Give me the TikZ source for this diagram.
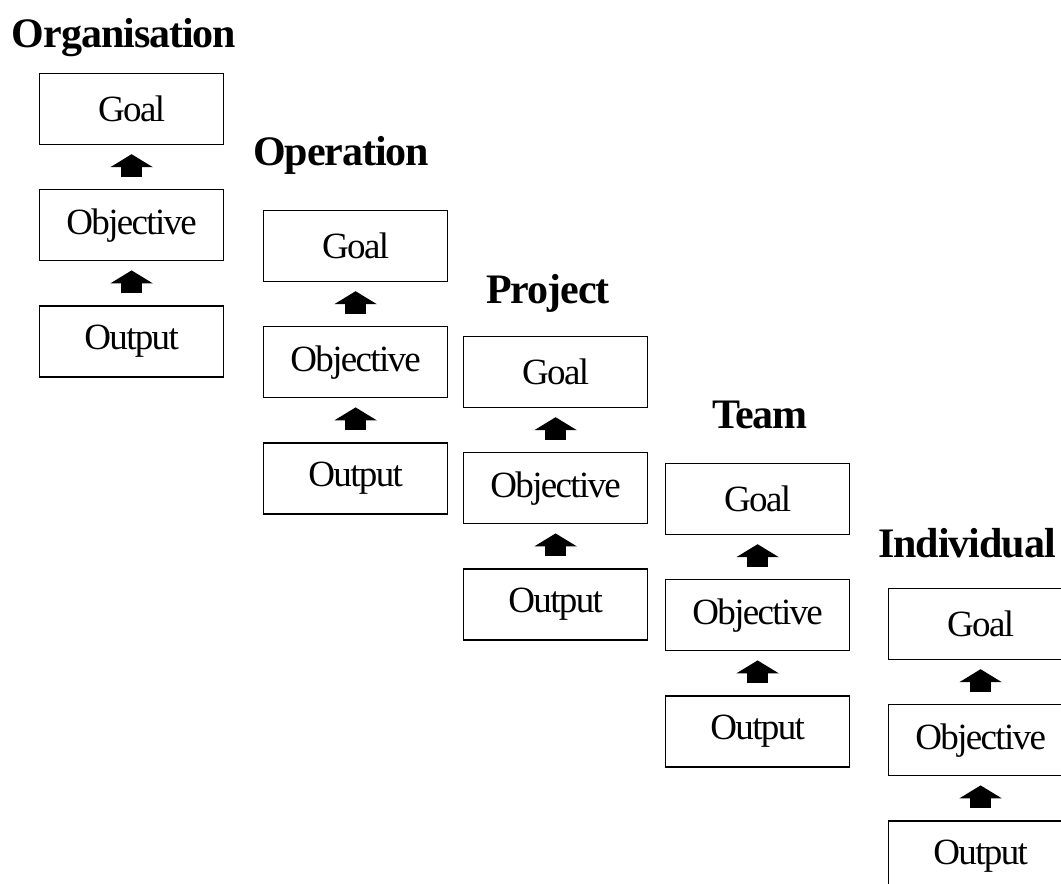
\documentclass[tikz,border=0pt]{standalone}
\usepackage{fontspec}
\setmainfont{Liberation Serif}
\newfontfamily\boxfont{Liberation Serif}[LetterSpace=-4.5]
\newfontfamily\titlefont{Liberation Serif}[LetterSpace=-2.5]
\usepackage{tikz}
\usetikzlibrary{positioning}
\usetikzlibrary{arrows.meta}

\tikzset{
	lvlbox/.style={
		draw,
		line width=1.2pt,
		fill=white,
		minimum width=184pt,
		minimum height=71pt,
		inner sep=0pt,
		font=\boxfont\fontsize{37}{41}\selectfont
	},
	lvltitle/.style={
		anchor=base,
		inner sep=0pt,
		font=\titlefont\bfseries\fontsize{42}{48}\selectfont
	},
	uparrow/.style={
		line width=21pt,
		-{Triangle[width=42pt,length=13pt]}
	}
}

\begin{document}
\begin{tikzpicture}[x=1pt,y=-1pt]
	\useasboundingbox (0,0) rectangle (1061,884);
	\clip (0,0) rectangle (1061,884);
	
	% --- Organisation
	
	\node[lvltitle] (Org-Title) at (124,47) {Organisation};
	
	\node[
	lvlbox,
	anchor=north west
	] (Org-Goal) at (39,73) {Goal};
	
	\node[
	lvlbox,
	below=44pt of Org-Goal
	] (Org-Obj) {Objective};
	
	\node[
	lvlbox,
	below=44pt of Org-Obj
	] (Org-Out) {Output};
	
	% --- Operation
	
	\node[lvltitle] (Op-Title) at (341,165) {Operation};
	
	\node[
	lvlbox,
	anchor=north west
	] (Op-Goal) at (263,210) {Goal};
	
	\node[
	lvlbox,
	below=44pt of Op-Goal
	] (Op-Obj) {Objective};
	
	\node[
	lvlbox,
	below=44pt of Op-Obj
	] (Op-Out) {Output};
	
	% --- Project
	
	\node[lvltitle] (Proj-Title) at (548,303) {Project};
	
	\node[
	lvlbox,
	anchor=north west
	] (Proj-Goal) at (463,336) {Goal};
	
	\node[
	lvlbox,
	below=44pt of Proj-Goal
	] (Proj-Obj) {Objective};
	
	\node[
	lvlbox,
	below=44pt of Proj-Obj
	] (Proj-Out) {Output};
	
	% --- Team
	
	\node[lvltitle] (Team-Title) at (760,428) {Team};
	
	\node[
	lvlbox,
	anchor=north west
	] (Team-Goal) at (665,463) {Goal};
	
	\node[
	lvlbox,
	below=44pt of Team-Goal
	] (Team-Obj) {Objective};
	
	\node[
	lvlbox,
	below=44pt of Team-Obj
	] (Team-Out) {Output};
	
	% --- Individual
	
	\node[lvltitle] (Ind-Title) at (967,557) {Individual};
	
	\node[
	lvlbox,
	anchor=north west
	] (Ind-Goal) at (888,588) {Goal};
	
	\node[
	lvlbox,
	below=44pt of Ind-Goal
	] (Ind-Obj) {Objective};
	
	\node[
	lvlbox,
	below=44pt of Ind-Obj
	] (Ind-Out) {Output};
	
	% --- arrows
	
	\draw[uparrow] ([yshift=12pt]Org-Out.north) -- ([yshift=-9pt]Org-Obj.south);
	\draw[uparrow] ([yshift=12pt]Org-Obj.north) -- ([yshift=-9pt]Org-Goal.south);
	
	\draw[uparrow] ([yshift=12pt]Op-Out.north) -- ([yshift=-9pt]Op-Obj.south);
	\draw[uparrow] ([yshift=12pt]Op-Obj.north) -- ([yshift=-9pt]Op-Goal.south);
	
	\draw[uparrow] ([yshift=12pt]Proj-Out.north) -- ([yshift=-9pt]Proj-Obj.south);
	\draw[uparrow] ([yshift=12pt]Proj-Obj.north) -- ([yshift=-9pt]Proj-Goal.south);
	
	\draw[uparrow] ([yshift=12pt]Team-Out.north) -- ([yshift=-9pt]Team-Obj.south);
	\draw[uparrow] ([yshift=12pt]Team-Obj.north) -- ([yshift=-9pt]Team-Goal.south);
	
	\draw[uparrow] ([yshift=12pt]Ind-Out.north) -- ([yshift=-9pt]Ind-Obj.south);
	\draw[uparrow] ([yshift=12pt]Ind-Obj.north) -- ([yshift=-9pt]Ind-Goal.south);
\end{tikzpicture}
\end{document}
